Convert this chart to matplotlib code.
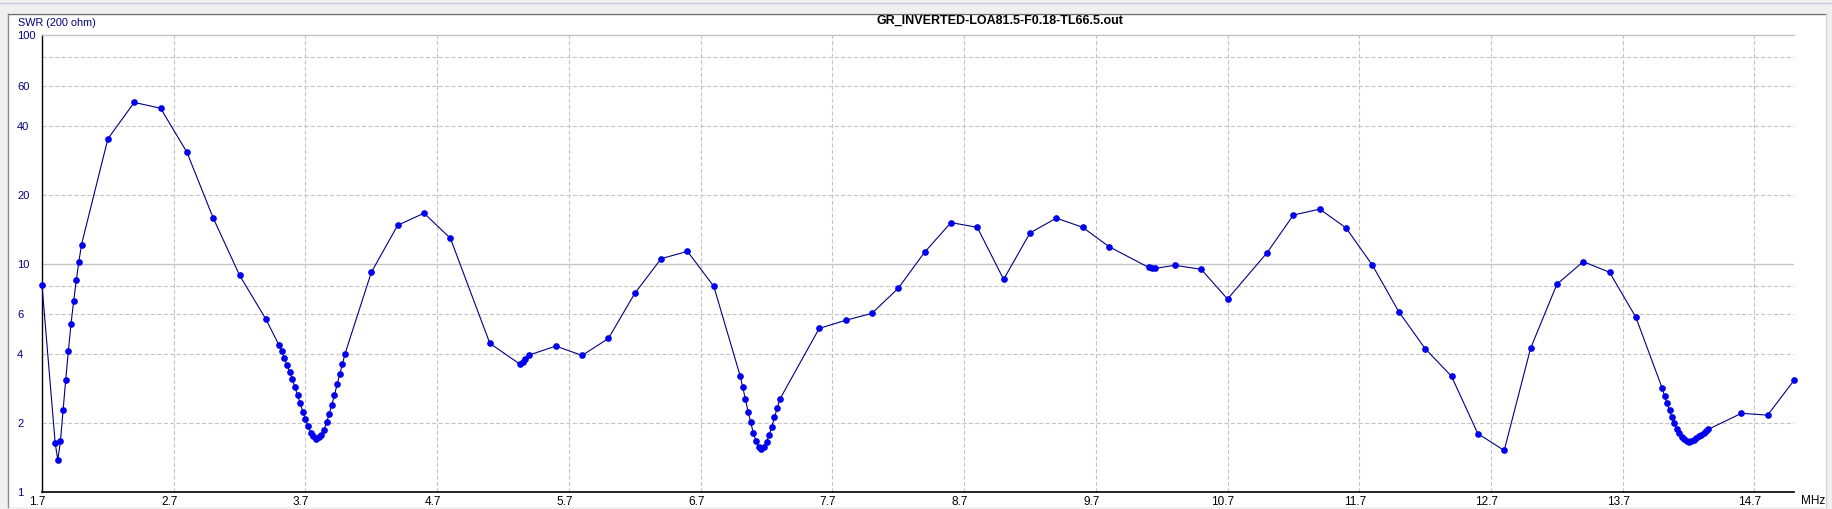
import matplotlib
matplotlib.use('Agg')
import matplotlib.pyplot as plt
from matplotlib.ticker import NullLocator
from matplotlib.patches import Rectangle
from matplotlib.lines import Line2D
import matplotlib.transforms as mtransforms

plt.rcParams['font.family'] = ['Liberation Sans', 'DejaVu Sans']
plt.rcParams['lines.scale_dashes'] = False

# ---------------- data ----------------
title = "GR_INVERTED-LOA81.5-F0.18-TL66.5.out"
y_label = "SWR (200 ohm)"
x_unit = "MHz"

freq_mhz = [
    1.70, 1.80, 1.82, 1.84, 1.86, 1.88, 1.90, 1.92, 1.94, 1.96, 1.98, 2.00,
    2.20, 2.40, 2.60, 2.80, 3.00, 3.20, 3.40,
    3.50, 3.52, 3.54, 3.56, 3.58, 3.60, 3.62, 3.64, 3.66, 3.68, 3.70, 3.72, 3.74,
    3.76, 3.78, 3.80, 3.82, 3.84, 3.86, 3.88, 3.90, 3.92, 3.94, 3.96, 3.98, 4.00,
    4.20, 4.40, 4.60, 4.80, 5.10, 5.33, 5.35, 5.37, 5.40, 5.60, 5.80, 6.00,
    6.20, 6.40, 6.60, 6.80,
    7.00, 7.02, 7.04, 7.06, 7.08, 7.10, 7.12, 7.14, 7.16, 7.18, 7.20, 7.22, 7.24,
    7.26, 7.28, 7.30,
    7.60, 7.80, 8.00, 8.20, 8.40, 8.60, 8.80, 9.00, 9.20, 9.40, 9.60, 9.80,
    10.10, 10.125, 10.15, 10.30, 10.50, 10.70, 11.00, 11.20, 11.40, 11.60, 11.80,
    12.00, 12.20, 12.40, 12.60, 12.80, 13.00, 13.20, 13.40, 13.60, 13.80,
    14.000, 14.018, 14.037, 14.055, 14.074, 14.092, 14.111, 14.129, 14.147, 14.166,
    14.184, 14.203, 14.221, 14.239, 14.258, 14.276, 14.295, 14.313, 14.332, 14.350,
    14.60, 14.80, 15.00,
]

swr = [
    8.03, 1.64, 1.38, 1.67, 2.28, 3.10, 4.13, 5.42, 6.83, 8.44, 10.2, 12.1,
    35.1, 50.7, 47.8, 30.7, 15.8, 8.88, 5.70,
    4.38, 4.13, 3.85, 3.58, 3.34, 3.12, 2.88, 2.65, 2.44, 2.25, 2.08, 1.94, 1.82,
    1.75, 1.71, 1.74, 1.78, 1.86, 2.02, 2.19, 2.41, 2.65, 2.96, 3.27, 3.63, 4.02,
    9.15, 14.7, 16.6, 12.9, 4.47, 3.62, 3.72, 3.82, 3.98, 4.35, 3.96, 4.70,
    7.40, 10.5, 11.3, 7.94,
    3.22, 2.87, 2.54, 2.25, 2.02, 1.81, 1.67, 1.57, 1.54, 1.57, 1.66, 1.78, 1.93,
    2.12, 2.32, 2.54,
    5.20, 5.64, 6.05, 7.79, 11.2, 15.1, 14.4, 8.52, 13.6, 15.8, 14.4, 11.85,
    9.62, 9.55, 9.52, 9.82, 9.43, 6.99, 11.15, 16.3, 17.3, 14.3, 9.82,
    6.15, 4.24, 3.21, 1.80, 1.52, 4.25, 8.11, 10.19, 9.15, 5.81,
    2.84, 2.62, 2.44, 2.28, 2.12, 2.00, 1.88, 1.81, 1.74, 1.70,
    1.68, 1.66, 1.67, 1.69, 1.72, 1.75, 1.78, 1.81, 1.84, 1.88,
    2.21, 2.17, 3.08,
]

x_ticks = [1.7, 2.7, 3.7, 4.7, 5.7, 6.7, 7.7, 8.7, 9.7, 10.7, 11.7, 12.7, 13.7, 14.7]
x_tick_labels = ["1.7", "2.7", "3.7", "4.7", "5.7", "6.7", "7.7", "8.7", "9.7",
                 "10.7", "11.7", "12.7", "13.7", "14.7"]
y_ticks = [1, 2, 4, 6, 10, 20, 40, 60, 100]
y_tick_labels = ["1", "2", "4", "6", "10", "20", "40", "60", "100"]
y_grid_solid = [10]
y_grid_dashed = [2, 4, 6, 8, 20, 40, 60, 80]

# ---------------- figure ----------------
W, H = 1833, 509
fig = plt.figure(figsize=(W / 100, H / 100), dpi=100, facecolor='#f0f0f0')


def fx(px):
    return px / W


def fy(py):
    return 1 - py / H


# window frame
fig.patches.append(Rectangle((fx(9), fy(507)), fx(1826) - fx(9), fy(13) - fy(507),
                             transform=fig.transFigure, facecolor='white',
                             edgecolor='none', zorder=-10))
fig.lines.append(Line2D([0, 1], [fy(2.5), fy(2.5)], transform=fig.transFigure,
                        color='#c3cde0', lw=1.0, zorder=-5))
fig.lines.append(Line2D([fx(8.5), fx(1826)], [fy(13.5), fy(13.5)], transform=fig.transFigure,
                        color='#6e6e6e', lw=1.0, zorder=-5))
fig.lines.append(Line2D([fx(8.5), fx(8.5)], [fy(13.5), fy(507)], transform=fig.transFigure,
                        color='#8a8a8a', lw=1.0, zorder=-5))
fig.lines.append(Line2D([fx(1826), fx(1826)], [fy(13.5), fy(507)], transform=fig.transFigure,
                        color='#d4d4d4', lw=1.0, zorder=-5))

ax = fig.add_axes([fx(42), fy(492), fx(1794) - fx(42), fy(35) - fy(492)])
ax.set_zorder(1)
ax.set_facecolor('white')
ax.set_yscale('log')
ax.set_xlim(1.7, 15.0)
ax.set_ylim(1, 100)

grid_c = '#c4c4c4'
for v in y_grid_solid:
    ax.axhline(v, color=grid_c, lw=1.0, zorder=1)
for v in y_grid_dashed:
    ax.axhline(v, color=grid_c, lw=0.8, ls=(0, (3.0, 1.6)), zorder=1)
for v in x_ticks[1:]:
    ax.axvline(v, color=grid_c, lw=0.8, ls=(0, (3.0, 1.6)), zorder=1)

ax.plot(freq_mhz, swr, color='#000080', lw=0.8, marker='o', markersize=3.8,
        markerfacecolor='#0000f0', markeredgecolor='#0000f0', zorder=3, clip_on=False)

ax.spines['right'].set_visible(False)
ax.spines['top'].set_color(grid_c)
ax.spines['top'].set_linewidth(1.0)
ax.spines['left'].set_color('black')
ax.spines['bottom'].set_color('black')
ax.spines['left'].set_linewidth(1.0)
ax.spines['bottom'].set_linewidth(1.2)

ax.yaxis.set_minor_locator(NullLocator())
ax.xaxis.set_minor_locator(NullLocator())
ax.set_yticks(y_ticks)
ax.set_yticklabels(y_tick_labels, color='#000080', fontsize=8, ha='left')
ax.set_xticks(x_ticks)
ax.set_xticklabels(x_tick_labels, color='black', fontsize=8.5)
ax.tick_params(axis='both', length=0)
ax.tick_params(axis='y', pad=18.0)
ax.tick_params(axis='x', pad=3.0)

shift = mtransforms.ScaledTranslation(-4.5 / 100, 0, fig.dpi_scale_trans)
for lbl in ax.get_xticklabels():
    lbl.set_transform(lbl.get_transform() + shift)

fig.text(fx(1000), fy(20.5), title, ha='center', va='center', fontsize=9,
         fontweight='bold', color='black')
fig.text(fx(18), fy(22.5), y_label, ha='left', va='center', fontsize=7.8, color='#000080')
fig.text(fx(1801), fy(501), x_unit, ha='left', va='center', fontsize=8.5, color='black')

fig.savefig('out.png', dpi=100, facecolor=fig.get_facecolor())
